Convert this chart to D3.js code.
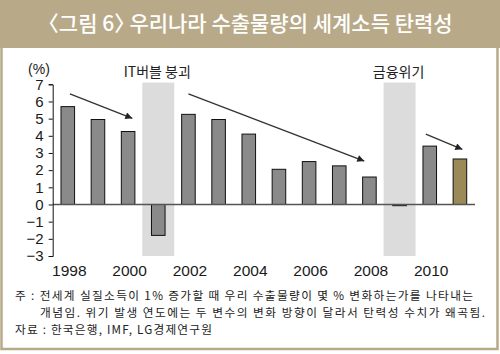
<!DOCTYPE html>
<html><head><meta charset="utf-8">
<script src="https://cdn.jsdelivr.net/npm/d3@7"></script>
<style>body{margin:0;background:#fff}svg{display:block}.half{font-feature-settings:"halt" 1}</style>
</head><body><svg id="c" width="500" height="354"></svg>
<script>
const years = [1998,1999,2000,2001,2002,2003,2004,2005,2006,2007,2008,2009,2010,2011];
const values = [5.7,4.95,4.25,-1.8,5.25,4.95,4.1,2.05,2.5,2.25,1.6,-0.07,3.4,2.65];
const highlightYear = 2011;
const yTicks = [-3,-2,-1,0,1,2,3,4,5,6,7];
const xTickYears = [1998,2000,2002,2004,2006,2008,2010];
const crisisYears = [2001,2009];
const crisisLabels = ["IT버블 붕괴","금융위기"];
// trend arrows: [startYear, startValue, endYear, endValue]
const trendArrows = [[1998.07,6.44,2000.14,5.02],[2002.0,6.44,2007.83,2.53],[2009.87,4.1,2011.08,3.21]];
const titleParts = ["〈","그림 6","〉"," 우리나라 수출물량의 세계소득 탄력성"];
const unitLabel = "(%)";
const notes = ["주 : 전세계 실질소득이 1% 증가할 때 우리 수출물량이 몇 % 변화하는가를 나타내는",
               "개념임. 위기 발생 연도에는 두 변수의 변화 방향이 달라서 탄력성 수치가 왜곡됨.",
               "자료 : 한국은행, IMF, LG경제연구원"];

const svg = d3.select("#c");
const tan = "#b8aa88";
const kr = "'Noto Sans CJK KR','Noto Sans',sans-serif";
const num = "'Liberation Sans',Arial,sans-serif";

// frame
svg.append("rect").attr("x",0).attr("y",0).attr("width",500).attr("height",48).attr("fill",tan);
svg.append("rect").attr("x",1.5).attr("y",46).attr("width",496).attr("height",303)
  .attr("fill","none").attr("stroke",tan).attr("stroke-width",2.5);

// title: brackets with half-width alternates
const fs = 19.5;
const t = svg.append("text").attr("x",250.5).attr("y",31).attr("text-anchor","middle")
  .attr("fill","#fff").attr("font-family",kr).attr("font-weight",500).attr("font-size",fs);
titleParts.forEach((p,i)=>{
  const ts = t.append("tspan").text(p);
  if (i===0 || i===2) ts.attr("class","half");
});
{
  const w = t.node().getComputedTextLength();
  t.attr("font-size", Math.min(fs*435/w, 21));
}

const x = d3.scaleBand().domain(years).range([52.7,475]).paddingInner(0.55).paddingOuter(0.275);
const y = d3.scaleLinear().domain([-3,7]).range([256,84.3]);
const step = x.step(), bw = x.bandwidth();
const cx = yr => x(years[0]) + bw/2 + (yr-years[0])*step;

// crisis shading
svg.selectAll("rect.shade").data(crisisYears).join("rect").attr("class","shade")
  .attr("x",d=>cx(d)-step*0.53).attr("width",step*1.06)
  .attr("y",y(7.1)).attr("height",y(-3)-y(7.1)).attr("fill","#dcdcdc");

svg.selectAll("text.clab").data(crisisYears).join("text").attr("class","clab")
  .attr("x",d=>cx(d)-1).attr("y",77).attr("text-anchor","middle")
  .attr("font-family",kr).attr("font-size",14).attr("fill","#222")
  .text((d,i)=>crisisLabels[i]);

// bars
svg.selectAll("rect.bar").data(years).join("rect").attr("class","bar")
  .attr("x",d=>x(d)).attr("width",bw)
  .attr("y",(d,i)=>y(Math.max(0,values[i])))
  .attr("height",(d,i)=>Math.abs(y(values[i])-y(0)))
  .attr("fill",d=>d===highlightYear?"#9b8a57":"#8a8a8a")
  .attr("stroke","#111").attr("stroke-width",1);

// zero line
svg.append("line").attr("x1",52.7).attr("x2",475).attr("y1",y(0)).attr("y2",y(0))
  .attr("stroke","#555").attr("stroke-width",1.3);

// y axis
const ya = svg.append("g").attr("transform","translate(52.7,0)")
  .call(d3.axisLeft(y).tickValues(yTicks).tickSize(4).tickPadding(5)
    .tickFormat(d=>d<0?"−"+Math.abs(d):String(d)));
ya.selectAll("path,line").attr("stroke","#111");
ya.selectAll("text").attr("font-family",num).attr("font-size",15).attr("fill","#1a1a1a");

svg.append("text").attr("x",39).attr("y",74).attr("text-anchor","middle")
  .attr("font-family",num).attr("font-size",14).attr("fill","#1a1a1a").text(unitLabel);

// x labels
svg.selectAll("text.xl").data(xTickYears).join("text").attr("class","xl")
  .attr("x",d=>cx(d)+1.5).attr("y",276).attr("text-anchor","middle")
  .attr("font-family",num).attr("font-size",15.5).attr("fill","#1a1a1a").text(d=>d);

// arrows
const defs = svg.append("defs");
defs.append("marker").attr("id","ah").attr("viewBox","0 0 10 10").attr("refX",10).attr("refY",5)
  .attr("markerWidth",9).attr("markerHeight",7).attr("markerUnits","userSpaceOnUse").attr("orient","auto")
  .append("path").attr("d","M0,0L10,5L0,10Z").attr("fill","#222");
svg.selectAll("line.arr").data(trendArrows).join("line").attr("class","arr")
  .attr("x1",d=>cx(d[0])).attr("y1",d=>y(d[1])).attr("x2",d=>cx(d[2])).attr("y2",d=>y(d[3]))
  .attr("stroke","#333").attr("stroke-width",1.3).attr("marker-end","url(#ah)");

// notes (fixed font size, letter-spacing to fit width)
const noteX = [15,40,15], noteY = [300,317,334], noteW = [458,445,197];
const nfs = 11.7;
notes.forEach((n,i)=>{
  const s = svg.append("text").attr("x",noteX[i]).attr("y",noteY[i])
    .attr("font-family",kr).attr("font-size",nfs).attr("fill","#222").text(n);
  const w = s.node().getComputedTextLength();
  s.attr("letter-spacing", (noteW[i]-w)/(n.length-1));
});
</script></body></html>
